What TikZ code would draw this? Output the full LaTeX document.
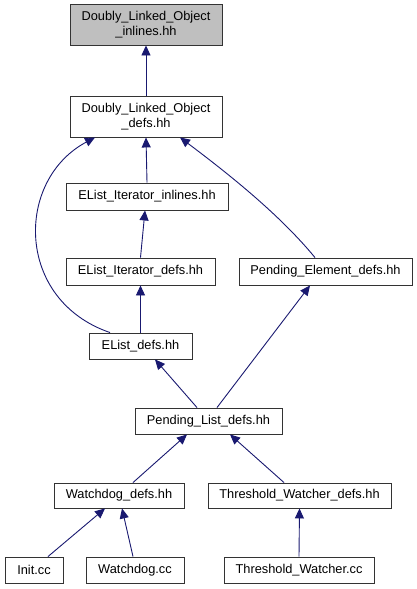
\documentclass[tikz,border=0pt]{standalone}
\usepackage{fontspec}
\setmainfont{Liberation Sans}
\usepackage{tikz}
\usetikzlibrary{arrows.meta}
\definecolor{edgeblue}{HTML}{191970}
\definecolor{rootgray}{HTML}{BFBFBF}

\tikzset{
  file/.style={draw=black!80, line width=0.9pt, fill=white, inner sep=0pt, align=center,
    font=\fontsize{12.8pt}{15pt}\selectfont},
  dep/.style={draw=edgeblue, line width=0.9pt, -{Triangle[length=10pt,width=9pt]}}
}

\begin{document}
\begin{tikzpicture}[x=1pt, y=-1pt]
  \useasboundingbox (0, 0) rectangle (417, 589);
  % files
  \node[file, fill=rootgray, minimum width=152pt, minimum height=41pt] (dlo_inl) at (146, 24.5) {Doubly\_Linked\_Object\\\_inlines.hh};
  \node[file, minimum width=152pt, minimum height=41pt] (dlo_defs) at (146, 116.5) {Doubly\_Linked\_Object\\\_defs.hh};
  \node[file, minimum width=162pt, minimum height=27pt] (eli_inl) at (147, 196.5) {EList\_Iterator\_inlines.hh};
  \node[file, minimum width=149pt, minimum height=27pt] (eli_defs) at (140.5, 271.5) {EList\_Iterator\_defs.hh};
  \node[file, minimum width=173pt, minimum height=27pt] (pe_defs) at (325.5, 271.5) {Pending\_Element\_defs.hh};
  \node[file, minimum width=103pt, minimum height=26pt] (el_defs) at (140.5, 346) {EList\_defs.hh};
  \node[file, minimum width=147pt, minimum height=26pt] (pl_defs) at (208.5, 421) {Pending\_List\_defs.hh};
  \node[file, minimum width=130pt, minimum height=25pt] (wd_defs) at (119, 495.5) {Watchdog\_defs.hh};
  \node[file, minimum width=183pt, minimum height=25pt] (tw_defs) at (299.5, 495.5) {Threshold\_Watcher\_defs.hh};
  \node[file, minimum width=58pt, minimum height=26pt] (init_cc) at (34, 570) {Init.cc};
  \node[file, minimum width=98pt, minimum height=26pt] (wd_cc) at (135, 570) {Watchdog.cc};
  \node[file, minimum width=150pt, minimum height=26pt] (tw_cc) at (299, 570) {Threshold\_Watcher.cc};

  % includes
  \draw[dep] (dlo_defs.north) -- (dlo_inl.south);
  \draw[dep] (eli_inl.north) -- ([xshift=-1pt]dlo_defs.south -| eli_inl.north);
  \draw[dep] ([xshift=-30.5pt]el_defs.north) .. controls (15, 300) and (15, 180) .. ([xshift=-51pt]dlo_defs.south);
  \draw[dep] ([xshift=-10.5pt]pe_defs.north) .. controls (280, 215) and (230, 175) .. ([xshift=34pt]dlo_defs.south);
  \draw[dep] (eli_defs.north) -- ([xshift=-2pt]eli_inl.south);
  \draw[dep] (el_defs.north) -- (eli_defs.south);
  \draw[dep] ([xshift=-11.5pt]pl_defs.north) -- ([xshift=14.5pt]el_defs.south);
  \draw[dep] ([xshift=8.5pt]pl_defs.north) -- ([xshift=-15.5pt]pe_defs.south);
  \draw[dep] ([xshift=14pt]wd_defs.north) -- ([xshift=-21.5pt]pl_defs.south);
  \draw[dep] ([xshift=-15.5pt]tw_defs.north) -- ([xshift=21.5pt]pl_defs.south);
  \draw[dep] ([xshift=14pt]init_cc.north) -- ([xshift=-14pt]wd_defs.south);
  \draw[dep] ([xshift=-2pt]wd_cc.north) -- ([xshift=3pt]wd_defs.south);
  \draw[dep] (tw_cc.north) -- (tw_defs.south);
\end{tikzpicture}
\end{document}
